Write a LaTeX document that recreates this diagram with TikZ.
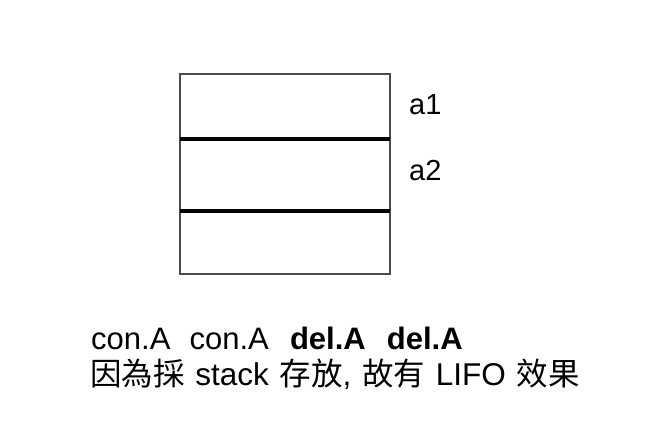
\documentclass[tikz,border=0pt]{standalone}
\usepackage{fontspec}
\setmainfont{Liberation Sans}
\newfontfamily\cjk{Noto Sans CJK TC}
\usetikzlibrary{positioning}

\begin{document}
\begin{tikzpicture}[x=1pt, y=-1pt,
        label text/.style={inner sep=0pt, anchor=base west, font=\fontsize{29}{36}\selectfont},
        divider/.style={draw=black, line width=3.5pt}]

            \useasboundingbox (0,0) rectangle (668,438);

            \node (stack) [rectangle, draw=black!70, line width=1.4pt, minimum width=210pt, minimum height=200pt, inner sep=0pt] at (285,174) {};
            \coordinate (cut1l) at (180,139);
            \coordinate (cut1r) at (390,139);
            \coordinate (cut2l) at (180,211);
            \coordinate (cut2r) at (390,211);
            \draw [divider] (cut1l) -- (cut1r);
            \draw [divider] (cut2l) -- (cut2r);

            \node (a1) [label text] at (409,115) {a1};
            \node (a2) [label text] at (409,181) {a2};

            \node (ops) [label text, font=\fontsize{31}{36}\selectfont] at (91,349) {con.A\hspace{0.62em}con.A\hspace{0.68em}\textbf{del.A}\hspace{0.68em}\textbf{del.A}};
            \node (note) [label text, font=\fontsize{31.5}{36}\selectfont] at (90,385) {{\cjk 因為採}\hspace{0.34em}stack\hspace{0.34em}{\cjk 存放},\hspace{0.34em}{\cjk 故有}\hspace{0.34em}LIFO\hspace{0.34em}{\cjk 效果}};

        \end{tikzpicture}
\end{document}
